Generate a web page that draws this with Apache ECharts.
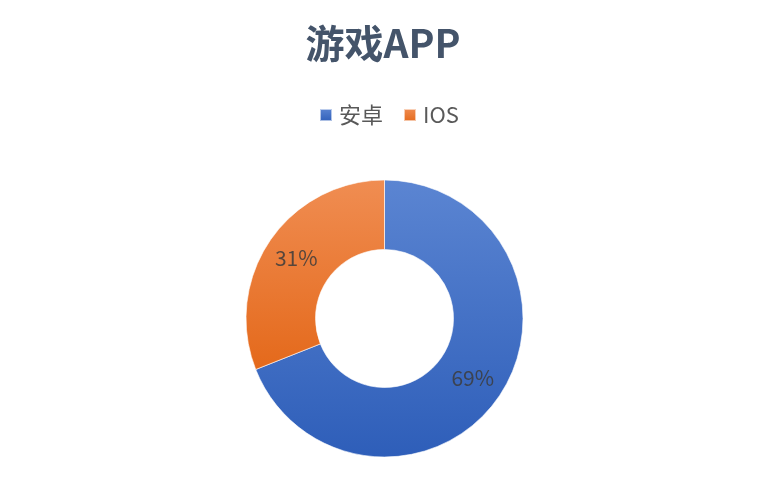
<!DOCTYPE html>
<html><head><meta charset="utf-8">
<script src="https://cdn.jsdelivr.net/npm/echarts@6/dist/echarts.min.js"></script>
<style>html,body{margin:0;padding:0;background:#fff}#c{width:766px;height:504px}</style>
</head><body><div id="c"></div>
<script>
const titleText = '游戏APP';
const categories = ['安卓', 'IOS'];
const values = [69, 31];
const topColors = ['#5B85D2', '#F08D52'];
const bottomColors = ['#2E5EB9', '#E4691B'];

const chart = echarts.init(document.getElementById('c'), null, {renderer: 'canvas'});
const font = '"Noto Sans CJK SC", "Noto Sans", sans-serif';
chart.setOption({
  animation: false,
  title: {
    text: titleText, left: 'center', top: 19,
    textStyle: {fontFamily: font, fontSize: 39, fontWeight: 'bold', color: '#44546A'}
  },
  legend: {
    data: categories, top: 104, left: 319, padding: 0,
    icon: 'rect', itemWidth: 12, itemHeight: 12, itemGap: 20,
    textStyle: {fontFamily: font, fontSize: 22, color: '#595959', padding: [0, 0, 0, 2]}
  },
  series: [{
    type: 'pie',
    center: [384.5, 318.5],
    radius: [69, 138.5],
    startAngle: 90,
    clockwise: true,
    label: {
      show: true, position: 'inside',
      formatter: p => p.value + '%',
      fontFamily: font, fontSize: 21, color: 'rgba(60,60,60,0.85)'
    },
    labelLine: {show: false},
    itemStyle: {borderColor: 'rgba(255,255,255,0.6)', borderWidth: 1},
    emphasis: {disabled: true},
    data: categories.map((n, i) => ({
      name: n, value: values[i],
      itemStyle: {color: new echarts.graphic.LinearGradient(0, 0, 0, 1, [
        {offset: 0, color: topColors[i]}, {offset: 1, color: bottomColors[i]}])}
    }))
  }]
});
</script></body></html>
